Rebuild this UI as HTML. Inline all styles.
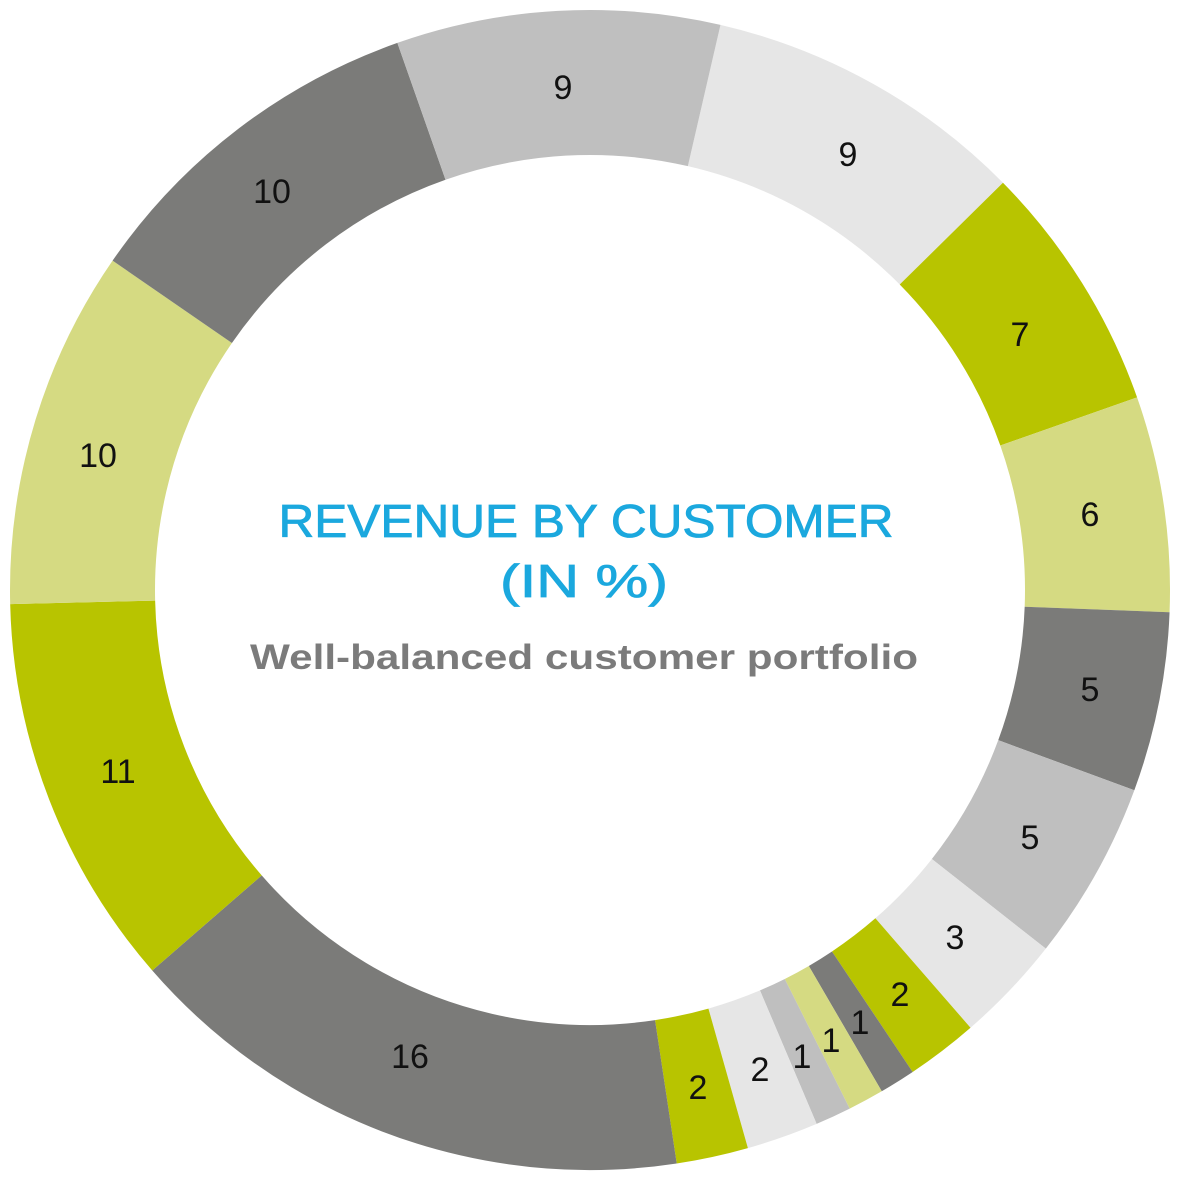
<!DOCTYPE html>
<html><head><meta charset="utf-8"><style>html,body{margin:0;padding:0;background:#fff}svg{display:block}</style></head>
<body>
<svg width="1181" height="1181" viewBox="0 0 1181 1181" xmlns="http://www.w3.org/2000/svg">
<g transform="rotate(-77 590 590)" fill="none" stroke-width="145">
<circle cx="590" cy="590" r="507.5" pathLength="100" stroke="#e6e6e6" stroke-dasharray="9 100" stroke-dashoffset="0"/>
<circle cx="590" cy="590" r="507.5" pathLength="100" stroke="#b8c400" stroke-dasharray="7 100" stroke-dashoffset="-9"/>
<circle cx="590" cy="590" r="507.5" pathLength="100" stroke="#d5da82" stroke-dasharray="6 100" stroke-dashoffset="-16"/>
<circle cx="590" cy="590" r="507.5" pathLength="100" stroke="#7b7b79" stroke-dasharray="5 100" stroke-dashoffset="-22"/>
<circle cx="590" cy="590" r="507.5" pathLength="100" stroke="#bfbfbf" stroke-dasharray="5 100" stroke-dashoffset="-27"/>
<circle cx="590" cy="590" r="507.5" pathLength="100" stroke="#e6e6e6" stroke-dasharray="3 100" stroke-dashoffset="-32"/>
<circle cx="590" cy="590" r="507.5" pathLength="100" stroke="#b8c400" stroke-dasharray="2 100" stroke-dashoffset="-35"/>
<circle cx="590" cy="590" r="507.5" pathLength="100" stroke="#7b7b79" stroke-dasharray="1 100" stroke-dashoffset="-37"/>
<circle cx="590" cy="590" r="507.5" pathLength="100" stroke="#d5da82" stroke-dasharray="1 100" stroke-dashoffset="-38"/>
<circle cx="590" cy="590" r="507.5" pathLength="100" stroke="#bfbfbf" stroke-dasharray="1 100" stroke-dashoffset="-39"/>
<circle cx="590" cy="590" r="507.5" pathLength="100" stroke="#e6e6e6" stroke-dasharray="2 100" stroke-dashoffset="-40"/>
<circle cx="590" cy="590" r="507.5" pathLength="100" stroke="#b8c400" stroke-dasharray="2 100" stroke-dashoffset="-42"/>
<circle cx="590" cy="590" r="507.5" pathLength="100" stroke="#7b7b79" stroke-dasharray="16 100" stroke-dashoffset="-44"/>
<circle cx="590" cy="590" r="507.5" pathLength="100" stroke="#b8c400" stroke-dasharray="11 100" stroke-dashoffset="-60"/>
<circle cx="590" cy="590" r="507.5" pathLength="100" stroke="#d5da82" stroke-dasharray="10 100" stroke-dashoffset="-71"/>
<circle cx="590" cy="590" r="507.5" pathLength="100" stroke="#7b7b79" stroke-dasharray="10 100" stroke-dashoffset="-81"/>
<circle cx="590" cy="590" r="507.5" pathLength="100" stroke="#bfbfbf" stroke-dasharray="9 100" stroke-dashoffset="-91"/>
</g>
<g font-family="Liberation Sans, sans-serif" font-size="34" fill="#111" text-anchor="middle" dominant-baseline="central">
<text x="563" y="88">9</text>
<text x="848" y="155">9</text>
<text x="1020" y="335">7</text>
<text x="1090" y="515">6</text>
<text x="1090" y="690">5</text>
<text x="1030" y="838">5</text>
<text x="955" y="938">3</text>
<text x="900" y="995">2</text>
<text x="860" y="1023">1</text>
<text x="831" y="1041">1</text>
<text x="802" y="1057">1</text>
<text x="760" y="1070">2</text>
<text x="698" y="1088">2</text>
<text x="410" y="1057">16</text>
<text x="118" y="772">11</text>
<text x="98" y="456">10</text>
<text x="272" y="192">10</text>
</g>
<g font-family="Liberation Sans, sans-serif" text-anchor="middle">
<text x="586" y="537" font-size="46" fill="#1ba8de" stroke="#1ba8de" stroke-width="0.8" textLength="615" lengthAdjust="spacingAndGlyphs">REVENUE BY CUSTOMER</text>
<text x="584" y="597" font-size="46" fill="#1ba8de" stroke="#1ba8de" stroke-width="0.8" textLength="168" lengthAdjust="spacingAndGlyphs">(IN %)</text>
<text x="584" y="669" font-size="35" font-weight="bold" fill="#7b7b7b" textLength="668" lengthAdjust="spacingAndGlyphs">Well-balanced customer portfolio</text>
</g>
</svg>
</body></html>
